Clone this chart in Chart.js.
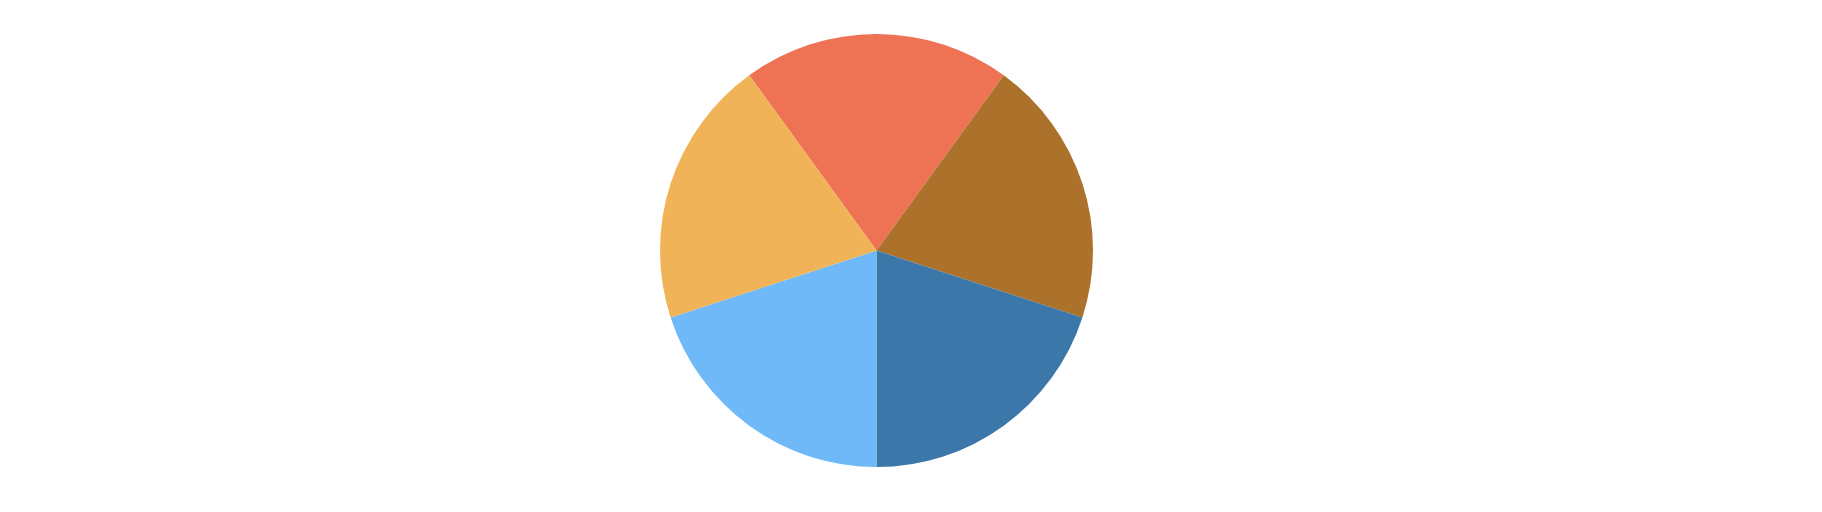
<!DOCTYPE html>
<html>
<head>
<meta charset="utf-8">
<script src="https://cdn.jsdelivr.net/npm/chart.js@4/dist/chart.umd.min.js"></script>
<style>
    html, body { margin: 0; padding: 0; background: #fff; }
    .wrap { width: 1822px; height: 512px; position: relative; }
</style>
</head>
<body>
<div class="wrap"><canvas id="pie"></canvas></div>
<script>
// slices, clockwise from the top-left edge
const labels = ['A', 'B', 'C', 'D', 'E'];
const values = [20, 20, 20, 20, 20];
const colors = ['#EE7254', '#AC722B', '#3C77AA', '#6FB9F9', '#F0B358'];

new Chart(document.getElementById('pie'), {
    type: 'pie',
    data: {
        labels,
        datasets: [{ data: values, backgroundColor: colors, borderWidth: 0 }]
    },
    options: {
        responsive: true,
        maintainAspectRatio: false,
        animation: false,
        rotation: -36,
        layout: { padding: { top: 34, bottom: 45, left: 0, right: 69 } },
        plugins: {
            legend: { display: false },
            tooltip: { enabled: false }
        }
    }
});
</script>
</body>
</html>
